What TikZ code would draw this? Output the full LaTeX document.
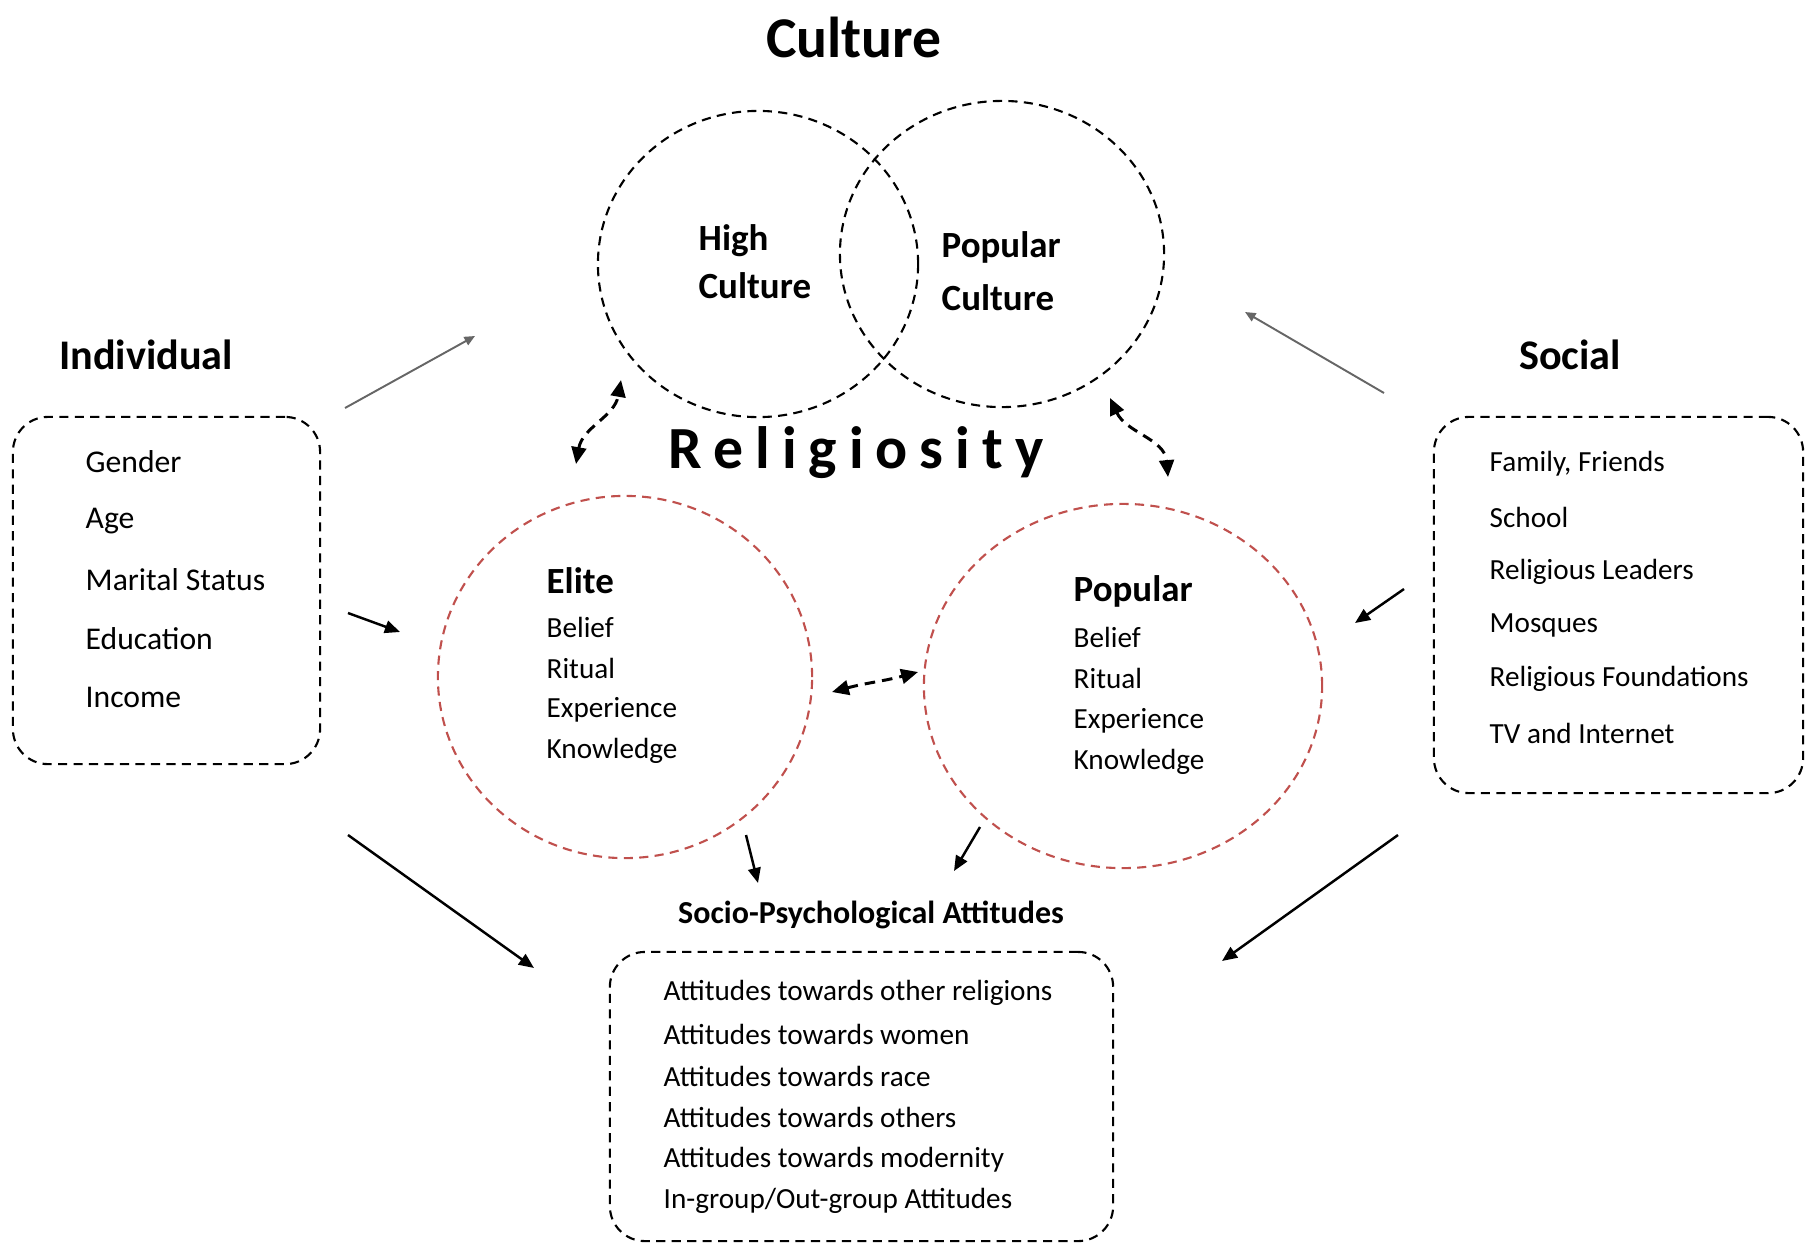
\documentclass[tikz,border=0pt]{standalone}
\usepackage{fontspec}
\setmainfont{Carlito}
\newfontfamily\spacedfont[LetterSpace=20]{Carlito}
\usetikzlibrary{arrows.meta,shapes.geometric}

\definecolor{ringred}{RGB}{192,80,77}

\tikzset{
  ring/.style = {draw, ellipse, inner sep=0pt, line width=0.6pt, dash pattern=on 2.6pt off 1.8pt},
  redring/.style = {ring, draw=ringred},
  dashbox/.style = {draw, line width=0.6pt, dash pattern=on 2.6pt off 1.8pt, rounded corners=0.35cm},
  item/.style = {anchor=west, inner sep=0pt, font=\fontsize{8.3}{10}\selectfont},
  bigitem/.style = {item, font=\fontsize{9}{11}\selectfont},
  head/.style = {inner sep=0pt, font=\bfseries\fontsize{12}{14}\selectfont},
  subhead/.style = {anchor=west, inner sep=0pt, font=\bfseries\fontsize{10.5}{12}\selectfont},
  solid arrow/.style = {line width=0.7pt, -{Triangle[length=4.3pt,width=3.6pt]}},
  gray arrow/.style = {line width=0.55pt, draw=black!60, -{Triangle[length=3pt,width=2.6pt]}},
  link/.style = {line width=0.85pt, dash pattern=on 3pt off 2pt,
                 {Triangle[length=4.8pt,width=4.2pt]}-{Triangle[length=4.8pt,width=4.2pt]}}
}

\begin{document}
\begin{tikzpicture}[x=0.01cm, y=-0.01cm]
  \useasboundingbox (0,0) rectangle (1807,1251);

  % culture
  \node[inner sep=0pt, font=\bfseries\fontsize{16.4}{18}\selectfont] (culture) at (854,37) {Culture};
  \node[ring, minimum width=3.2cm, minimum height=3.06cm] (high) at (758,264) {};
  \node[ring, minimum width=3.24cm, minimum height=3.06cm] (pop) at (1002,254) {};
  \node[subhead] (hightxt1) at (698,241) {High};
  \node[subhead] (hightxt2) at (698,286) {Culture};
  \node[subhead] (poptxt1) at (941,247) {Popular};
  \node[subhead] (poptxt2) at (941,298) {Culture};

  % religiosity
  \node[inner sep=0pt, font=\spacedfont\bfseries\fontsize{17}{19}\selectfont] (relig) at (856,453) {Religiosity};
  \node[redring, minimum width=3.74cm, minimum height=3.62cm] (elite) at (625,677) {};
  \node[redring, minimum width=3.98cm, minimum height=3.64cm] (popular) at (1123,686) {};
  \node[subhead] (elitetxt) at (546,581) {Elite};
  \foreach \t [count=\i] in {Belief, Ritual, Experience, Knowledge}
    \node[item] (elite\i) at (546,{627+41.3*(\i-1)}) {\t};
  \node[subhead] (populartxt) at (1073,591) {Popular};
  \foreach \t [count=\i] in {Belief, Ritual, Experience, Knowledge}
    \node[item] (popular\i) at (1073,{637+41.7*(\i-1)}) {\t};

  % individual
  \node[head] (indiv) at (146,355) {Individual};
  \node[dashbox, minimum width=3.07cm, minimum height=3.47cm] (indbox) at (166.5,590.5) {};
  \foreach \t [count=\i] in {Gender, Age, Marital Status, Education, Income}
    \node[bigitem] (ind\i) at (85,{462+58.8*(\i-1)}) {\t};

  % social
  \node[head] (social) at (1570,355) {Social};
  \node[dashbox, minimum width=3.69cm, minimum height=3.76cm] (socbox) at (1618.5,605) {};
  \foreach \t [count=\i] in {{Family, Friends}, School, Religious Leaders, Mosques, Religious Foundations, TV and Internet}
    \node[item] (soc\i) at (1489,{464+53.8*(\i-1)}) {\t};

  % attitudes
  \node[inner sep=0pt, font=\bfseries\fontsize{9.1}{11}\selectfont] (attlabel) at (871,915) {Socio-Psychological Attitudes};
  \node[dashbox, minimum width=5.03cm, minimum height=2.89cm] (attbox) at (861.5,1096.5) {};
  \foreach \t [count=\i] in {Attitudes towards other religions, Attitudes towards women,
      Attitudes towards race, Attitudes towards others, Attitudes towards modernity,
      In-group/Out-group Attitudes}
    \node[item] (att\i) at (663,{993+41.6*(\i-1)}) {\t};

  % arrow ends
  \coordinate (g1a) at (345,408);  \coordinate (g1b) at (475,336);
  \coordinate (g2a) at (1384,393); \coordinate (g2b) at (1245,312);
  \coordinate (b1a) at (348,613);  \coordinate (b1b) at (400,632);
  \coordinate (b2a) at (1404,589); \coordinate (b2b) at (1355,623);
  \coordinate (b3a) at (348,835);  \coordinate (b3b) at (534,968);
  \coordinate (b4a) at (1398,835); \coordinate (b4b) at (1222,961);
  \coordinate (b5a) at (746,835);  \coordinate (b5b) at (758,883);
  \coordinate (b6a) at (980,827);  \coordinate (b6b) at (954,871);
  \coordinate (d1a) at (576,464);  \coordinate (d1b) at (621,380);
  \coordinate (d2a) at (1110,398); \coordinate (d2b) at (1168,477);
  \coordinate (d3a) at (832,692);  \coordinate (d3b) at (918,672);

  \draw[gray arrow] (g1a) -- (g1b);
  \draw[gray arrow] (g2a) -- (g2b);
  \draw[solid arrow] (b1a) -- (b1b);
  \draw[solid arrow] (b2a) -- (b2b);
  \draw[solid arrow] (b3a) -- (b3b);
  \draw[solid arrow] (b4a) -- (b4b);
  \draw[solid arrow] (b5a) -- (b5b);
  \draw[solid arrow] (b6a) -- (b6b);

  \draw[link] (d1a) to[out=80, in=-100] (d1b);
  \draw[link] (d2a) to[out=-65, in=95] (d2b);
  \draw[link] (d3a) to[out=15, in=195] (d3b);
\end{tikzpicture}
\end{document}
